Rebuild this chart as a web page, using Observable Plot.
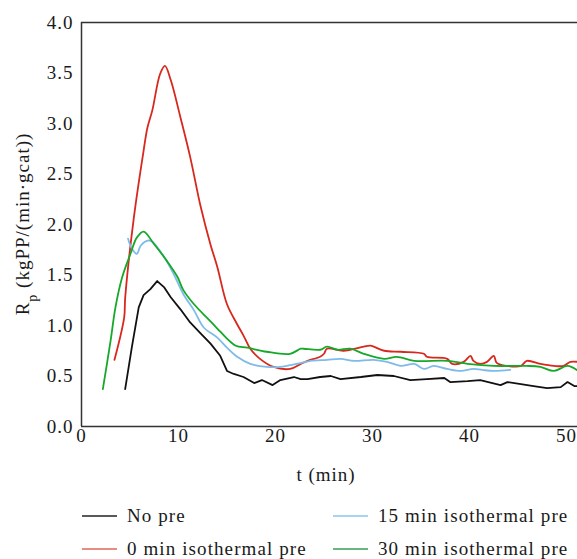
<!DOCTYPE html>
<html><head><meta charset="utf-8">
<script src="https://cdn.jsdelivr.net/npm/d3@7"></script>
<script src="https://cdn.jsdelivr.net/npm/@observablehq/plot@0.6"></script>
<style>
body{margin:0;background:#fff;font-family:"Liberation Serif",serif;}
#wrap{position:relative;width:577px;height:559px;overflow:hidden;}
#wrap svg text{letter-spacing:1px;}
.leg{position:absolute;height:24px;font-size:19px;letter-spacing:1.1px;line-height:24px;color:#1a1a1a;white-space:nowrap;}
.leg svg{position:absolute;left:0;top:0;}
.leg span{position:absolute;left:45px;top:0;}
</style></head><body><div id="wrap"></div>
<script>
// Series names and colours
const names = ["No pre", "0 min isothermal pre", "15 min isothermal pre", "30 min isothermal pre"];
const colors = ["#111111", "#d8281e", "#7fbbe8", "#17a82a"];
const legendColors = ["#222222", "#e0645a", "#8cc4ec", "#3a9a58"];

// No pre (black)
const tNo = [4.5,5.2,5.9,6.4,7.1,7.8,8.5,9.2,10.2,11.2,12.3,13.3,14.3,15.0,15.7,16.7,17.8,18.6,19.7,20.5,21.9,22.6,23.3,24.6,25.7,26.7,28.8,30.5,32.2,33.9,35.6,37.4,38.0,39.8,41.1,43.2,43.9,45.3,46.6,48.0,49.4,50.1,50.8,51.2];
const vNo = [0.37,0.79,1.18,1.30,1.36,1.44,1.38,1.28,1.16,1.03,0.92,0.82,0.70,0.55,0.52,0.49,0.43,0.46,0.41,0.46,0.49,0.47,0.47,0.49,0.50,0.47,0.49,0.51,0.50,0.46,0.47,0.48,0.44,0.45,0.46,0.41,0.44,0.42,0.40,0.38,0.39,0.44,0.40,0.40];

// 0 min isothermal pre (red)
const t0 = [3.4,4.4,4.5,5.4,6.4,6.8,7.3,8.1,8.6,9.2,10.2,11.2,12.3,13.3,14.0,15.0,16.0,16.7,17.4,18.4,19.8,21.5,22.6,23.3,24.6,25.0,25.3,27.0,29.1,29.8,31.2,32.9,35.3,35.6,37.7,38.2,39.4,40.1,40.4,41.1,41.8,42.5,42.8,43.9,45.3,45.9,47.3,48.7,49.7,50.4,51.2];
const v0 = [0.66,1.08,1.27,2.07,2.73,2.96,3.13,3.49,3.57,3.43,3.06,2.67,2.17,1.80,1.58,1.21,1.02,0.90,0.77,0.67,0.59,0.57,0.62,0.65,0.69,0.72,0.77,0.75,0.79,0.80,0.75,0.74,0.72,0.69,0.67,0.62,0.64,0.70,0.65,0.62,0.64,0.70,0.63,0.60,0.60,0.65,0.62,0.60,0.60,0.64,0.64];

// 15 min isothermal pre (light blue)
const t15 = [4.8,5.2,5.7,6.1,6.8,7.3,8.5,9.5,10.5,11.6,12.6,14.0,15.0,16.05,17.4,19.1,20.5,22.2,23.6,25.3,26.7,28.1,30.1,31.5,32.9,34.3,35.3,36.3,37.7,39.1,40.4,41.3,42.5,44.2];
const v15 = [1.86,1.76,1.71,1.79,1.84,1.83,1.68,1.51,1.31,1.15,0.98,0.88,0.78,0.69,0.62,0.59,0.59,0.62,0.65,0.66,0.67,0.65,0.66,0.64,0.60,0.62,0.57,0.60,0.57,0.55,0.57,0.56,0.55,0.56];

// 30 min isothermal pre (green)
const t30 = [2.2,3.0,3.5,4.2,5.05,5.7,6.4,7.45,8.8,9.9,10.5,11.6,13.0,14.0,15.0,15.9,17.1,19.1,21.5,22.6,22.9,24.6,25.3,26.4,27.7,29.1,31.2,32.5,34.3,37.7,39.8,42.5,45.9,47.3,48.7,50.1,51.2];
const v30 = [0.37,0.85,1.18,1.48,1.71,1.87,1.93,1.81,1.64,1.48,1.35,1.21,1.07,0.97,0.87,0.80,0.78,0.74,0.72,0.77,0.77,0.76,0.79,0.76,0.77,0.72,0.67,0.69,0.65,0.65,0.62,0.60,0.60,0.59,0.55,0.60,0.55];

const xTicks = [0,10,20,30,40,50];
const yTicks = [0,0.5,1,1.5,2,2.5,3,3.5,4];

const ts = [tNo, t0, t15, t30];
const vs = [vNo, v0, v15, v30];
const data = ts.map((t, k) => t.map((x, i) => ({t: x, v: vs[k][i], s: names[k]})));

const plot = Plot.plot({
  width: 577, height: 490,
  marginLeft: 81, marginRight: 0, marginTop: 22, marginBottom: 64,
  style: {fontFamily: "Liberation Serif, serif", fontSize: "19px", color: "#1a1a1a", background: "white", overflow: "visible"},
  x: {domain: [0, 51.13]},
  y: {domain: [0, 4]},
  marks: [
    Plot.axisX({ticks: xTicks, tickSize: 0, tickPadding: 2, label: null, tickFormat: d3.format("d")}),
    Plot.axisY({ticks: yTicks, tickSize: 0, tickPadding: 8, label: null, tickFormat: d3.format(".1f")}),
    ...data.map((d, k) => Plot.line(d, {x: "t", y: "v", stroke: colors[k], strokeWidth: 1.8, curve: k === 0 ? "linear" : "catmull-rom"})),
    Plot.ruleY([0, 4], {stroke: "#333", strokeWidth: 1.5}),
    Plot.ruleX([0], {stroke: "#333", strokeWidth: 1.5})
  ]
});

const svg = d3.select(plot);
svg.append("text")
  .attr("x", 326).attr("y", 481)
  .attr("text-anchor", "middle")
  .attr("fill", "#1a1a1a")
  .style("font-size", "19px")
  .text("t (min)");
const yl = svg.append("text")
  .attr("transform", "translate(29,224) rotate(-90)")
  .attr("text-anchor", "middle")
  .attr("fill", "#1a1a1a")
  .style("font-size", "19px");
yl.append("tspan").text("R");
yl.append("tspan").attr("baseline-shift", "sub").style("font-size", "14px").text("p");
yl.append("tspan").text(" (kgPP/(min·gcat))");

const wrap = document.getElementById("wrap");
wrap.appendChild(plot);

const legPos = [[82, 504], [82, 537], [333, 504], [333, 537]];
names.forEach((n, k) => {
  const div = document.createElement("div");
  div.className = "leg";
  div.style.left = legPos[k][0] + "px";
  div.style.top = legPos[k][1] + "px";
  div.innerHTML = `<svg width="36" height="24"><line x1="0" x2="35" y1="12" y2="12" stroke="${legendColors[k]}" stroke-width="1.5"/></svg><span>${n}</span>`;
  wrap.appendChild(div);
});
</script>
</body></html>
